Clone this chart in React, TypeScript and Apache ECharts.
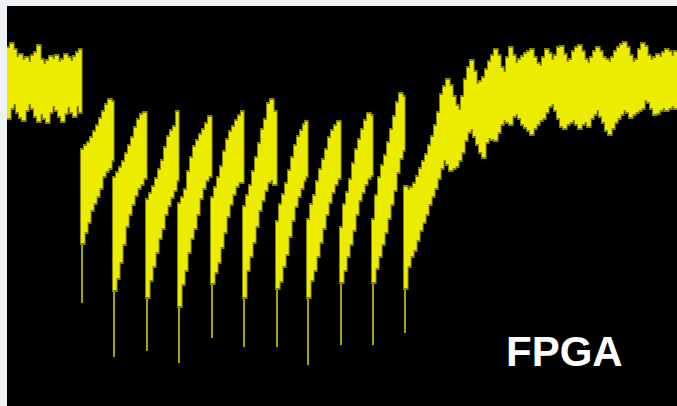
import React, { useEffect, useRef } from "react";
import * as echarts from "echarts";

// Sample times (screen time units, 0..670)
const TIME = [
  0, 3, 6, 9, 12, 15, 18, 21, 24, 27, 30, 33, 36, 39, 42, 45, 48, 51, 54, 57, 60, 63, 66, 69, 72,
  74, 77, 80, 83, 86, 89, 92, 95, 98, 101, 104,
  106, 109, 112, 115, 118, 121, 124, 127, 130, 133, 136,
  139, 142, 145, 148, 151, 154, 157, 160, 163, 166, 169,
  171, 174, 177, 180, 183, 186, 189, 192, 195, 198, 201,
  204, 207, 210, 213, 216, 219, 222, 225, 228, 231, 234,
  236, 239, 242, 245, 248, 251, 254, 257, 260, 263, 266,
  269, 272, 275, 278, 281, 284, 287, 290, 293, 296, 298,
  300, 303, 306, 309, 312, 315, 318, 321, 324, 327, 330,
  333, 336, 339, 342, 345, 348, 351, 354, 357, 360, 363,
  365, 368, 371, 374, 377, 380, 383, 386, 389, 392, 395,
  397, 400, 403, 406, 409, 412, 415, 418, 421, 424, 427, 430, 433, 436, 439, 442, 445, 448, 451, 454,
  457, 460, 463, 466, 469, 472, 475, 478, 481, 484, 487, 490, 493, 496, 499, 502, 505, 508, 511, 514,
  517, 520, 523, 526, 529, 532, 535, 538, 541, 544, 547, 550, 553, 556, 559, 562, 565, 568, 571, 574,
  577, 580, 583, 586, 589, 592, 595, 598, 601, 604, 607, 610, 613, 616, 619, 622, 625, 628, 631, 634,
  637, 640, 643, 646, 649, 652, 655, 658, 661, 664, 667,
];

// Upper envelope of the trace (deflection from top, 0..400)
const UPPER = [
  42, 38, 44, 51, 49, 54, 52, 56, 50, 47, 40, 54, 58, 55, 51, 53, 50, 56, 54, 49, 52, 55, 51, 47, 44,
  144, 140, 137, 132, 126, 120, 113, 106, 99, 94, 96,
  172, 167, 162, 156, 148, 140, 132, 122, 114, 109, 107,
  194, 188, 181, 173, 164, 155, 142, 131, 125, 121, 106,
  198, 192, 184, 166, 152, 141, 135, 129, 124, 118, 111,
  192, 182, 172, 161, 146, 134, 126, 121, 115, 110, 106,
  201, 190, 180, 166, 152, 138, 124, 114, 98, 94, 106,
  216, 199, 189, 178, 165, 152, 140, 131, 125, 119, 116,
  214, 199, 190, 176, 164, 154, 144, 132, 125, 120, 116,
  222, 199, 187, 174, 158, 144, 134, 124, 115, 108, 110,
  214, 190, 172, 160, 150, 137, 124, 111, 97, 88, 91,
  181, 184, 182, 178, 171, 163, 156, 149, 140, 131, 120, 107, 89, 81, 74, 80, 91, 100, 104, 91,
  74, 62, 55, 66, 78, 76, 72, 64, 56, 50, 44, 50, 62, 66, 52, 42, 50, 57, 54, 51,
  48, 46, 44, 52, 58, 60, 52, 44, 48, 54, 50, 42, 41, 49, 56, 54, 46, 42, 40, 46,
  54, 57, 52, 46, 42, 46, 52, 54, 56, 52, 46, 42, 39, 37, 42, 50, 56, 54, 44, 38,
  41, 50, 54, 52, 49, 51, 47, 44, 46, 50, 46,
];

// Lower envelope of the trace
const LOWER = [
  112, 102, 98, 106, 111, 114, 104, 98, 102, 110, 115, 108, 112, 116, 106, 100, 104, 110, 115, 107, 101, 106, 110, 100, 106,
  237, 226, 216, 204, 197, 190, 182, 170, 165, 162, 154,
  284, 272, 256, 238, 220, 208, 198, 189, 182, 178, 172,
  291, 274, 260, 246, 232, 222, 208, 199, 191, 184, 174,
  300, 278, 264, 246, 232, 222, 208, 192, 182, 174, 170,
  277, 266, 256, 241, 226, 210, 198, 188, 180, 176, 176,
  291, 264, 250, 236, 220, 204, 194, 184, 176, 174, 178,
  282, 275, 260, 248, 230, 214, 200, 190, 182, 174, 170,
  291, 274, 264, 250, 236, 222, 208, 196, 186, 178, 172,
  276, 264, 250, 238, 224, 208, 194, 186, 178, 172, 169,
  276, 262, 250, 238, 226, 212, 198, 184, 166, 152, 144,
  282, 260, 250, 244, 234, 224, 216, 208, 198, 190, 182, 172, 162, 154, 158, 164, 162, 160, 154, 146,
  134, 126, 123, 130, 138, 146, 151, 136, 132, 133, 134, 126, 118, 114, 116, 118, 110, 108, 112, 118,
  121, 124, 128, 122, 118, 114, 112, 106, 100, 98, 104, 112, 120, 122, 118, 116, 114, 118, 122, 118,
  116, 120, 112, 108, 104, 110, 116, 124, 128, 122, 116, 112, 108, 104, 106, 111, 108, 106, 104, 102,
  94, 96, 102, 108, 107, 104, 102, 104, 102, 100, 102,
];

// Narrow downward spikes at the start of each tooth
const SPIKE_TIME = [74, 106, 139, 171, 204, 236, 269, 300, 333, 365, 397];
const SPIKE_DEPTH = [297, 351, 345, 357, 332, 341, 341, 359, 339, 339, 327];

const LABEL = "FPGA";
const T_MAX = 670;
const Y_MAX = 400;

export default function App() {
  const ref = useRef<HTMLDivElement>(null);

  useEffect(() => {
    if (!ref.current) return;
    const chart = echarts.init(ref.current, undefined, { renderer: "svg" });

    const bandData = TIME.map((t, i) => [t, UPPER[i], LOWER[i]]);
    const spikeData = SPIKE_TIME.map((t, i) => {
      const idx = TIME.indexOf(t);
      return [t, UPPER[idx], SPIKE_DEPTH[i]];
    });

    const makeBand = (fill: string, pad: number) => (params: any, api: any) => {
      const i = params.dataIndex;
      const t0 = api.value(0);
      const hi = api.value(1);
      const lo = api.value(2);
      const t1 = i + 1 < TIME.length ? TIME[i + 1] : T_MAX;
      const p0 = api.coord([t0, hi]);
      const p1 = api.coord([t1, lo]);
      return {
        type: "rect",
        shape: {
          x: p0[0] - pad * 0.5,
          y: p0[1] - pad,
          width: p1[0] - p0[0] + 0.6 + pad,
          height: p1[1] - p0[1] + pad * 2,
        },
        style: { fill },
      };
    };

    chart.setOption({
      animation: false,
      backgroundColor: "#eef2f5",
      grid: {
        left: 7,
        top: 6,
        right: 0,
        bottom: 0,
        show: true,
        backgroundColor: "#000000",
        borderWidth: 0,
      },
      xAxis: { type: "value", min: 0, max: T_MAX, show: false },
      yAxis: { type: "value", min: 0, max: Y_MAX, inverse: true, show: false },
      series: [
        {
          type: "custom",
          clip: true,
          data: spikeData,
          encode: { x: 0, y: [1, 2] },
          renderItem: (params: any, api: any) => {
            const a = api.coord([api.value(0), api.value(1)]);
            const b = api.coord([api.value(0), api.value(2)]);
            return {
              type: "line",
              shape: { x1: a[0] + 1, y1: a[1], x2: b[0] + 1, y2: b[1] },
              style: { stroke: "#a4a400", lineWidth: 2 },
            };
          },
          z: 1,
        },
        {
          type: "custom",
          clip: true,
          data: bandData,
          encode: { x: 0, y: [1, 2] },
          renderItem: makeBand("#858500", 2),
          z: 2,
        },
        {
          type: "custom",
          clip: true,
          data: bandData,
          encode: { x: 0, y: [1, 2] },
          renderItem: makeBand("#ecec00", 0),
          z: 3,
        },
      ],
      graphic: [
        {
          type: "text",
          left: 506,
          top: 330,
          z: 10,
          style: {
            text: LABEL,
            fill: "#ffffff",
            font: "bold 42px 'Liberation Sans', Arial, sans-serif",
          },
        },
      ],
    });

    return () => chart.dispose();
  }, []);

  return (
    <div
      ref={ref}
      style={{ position: "fixed", left: 0, top: 0, width: 677, height: 406 }}
    />
  );
}
